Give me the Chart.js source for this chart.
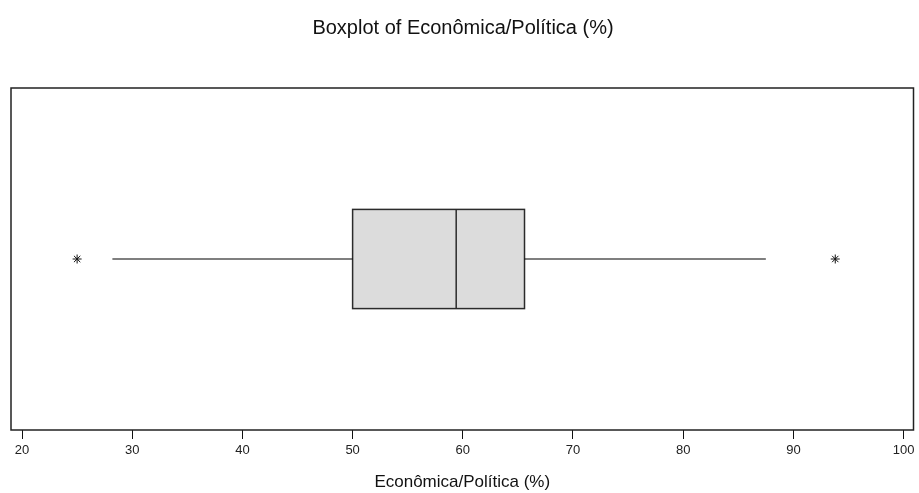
<!DOCTYPE html>
<html>
<head>
<meta charset="utf-8">
<script src="https://cdn.jsdelivr.net/npm/chart.js@4.4.0/dist/chart.umd.min.js"></script>
<style>
  html, body { margin: 0; padding: 0; background: #fff; }
  #wrap { width: 919px; height: 493px; }
</style>
</head>
<body>
<div id="wrap"><canvas id="chart"></canvas></div>
<script>
// five-number summary
const whiskerLow = 28.2;
const q1 = 50.0;
const median = 59.4;
const q3 = 65.6;
const whiskerHigh = 87.5;
const outliers = [25.0, 93.8];
const xTicks = [20, 30, 40, 50, 60, 70, 80, 90, 100];

// vertical placement of the box on a hidden 0..1 axis
const boxCenter = 0.5;
const boxHalf = 0.145;

const boxPlugin = {
  id: 'boxDraw',
  beforeDatasetsDraw(chart) {
    const { ctx, scales: { x, y } } = chart;
    const left = x.getPixelForValue(q1);
    const right = x.getPixelForValue(q3);
    const top = y.getPixelForValue(boxCenter + boxHalf);
    const bottom = y.getPixelForValue(boxCenter - boxHalf);
    const mid = x.getPixelForValue(median);
    ctx.save();
    ctx.fillStyle = '#dcdcdc';
    ctx.fillRect(left, top, right - left, bottom - top);
    ctx.strokeStyle = '#2b2b2b';
    ctx.lineWidth = 1.5;
    ctx.strokeRect(left, top, right - left, bottom - top);
    ctx.beginPath();
    ctx.moveTo(mid, top);
    ctx.lineTo(mid, bottom);
    ctx.stroke();
    ctx.restore();
  },
  afterDraw(chart) {
    const { ctx, chartArea: a } = chart;
    ctx.save();
    ctx.strokeStyle = '#222';
    ctx.lineWidth = 1.5;
    ctx.strokeRect(a.left, a.top, a.right - a.left, a.bottom - a.top);
    ctx.restore();
  }
};

new Chart(document.getElementById('chart'), {
  type: 'scatter',
  data: {
    datasets: [
      {
        data: [{ x: whiskerLow, y: boxCenter }, { x: q1, y: boxCenter }],
        showLine: true, borderColor: '#000', borderWidth: 1.2, pointRadius: 0
      },
      {
        data: [{ x: q3, y: boxCenter }, { x: whiskerHigh, y: boxCenter }],
        showLine: true, borderColor: '#000', borderWidth: 1.2, pointRadius: 0
      },
      {
        data: outliers.map(v => ({ x: v, y: boxCenter })),
        pointStyle: 'star', pointRadius: 4.5, borderColor: '#111', borderWidth: 1,
        backgroundColor: '#111'
      }
    ]
  },
  options: {
    responsive: true,
    maintainAspectRatio: false,
    animation: false,
    layout: { padding: { left: 11, right: 4, top: 0, bottom: 0 } },
    plugins: {
      legend: { display: false },
      tooltip: { enabled: false },
      title: {
        display: true,
        text: 'Boxplot of Econômica/Política (%)',
        color: '#111',
        font: { family: 'Liberation Sans, Arial', size: 20, weight: 'normal' },
        padding: { top: 16, bottom: 48 }
      }
    },
    scales: {
      x: {
        type: 'linear',
        min: 19.0,
        max: 100.9,
        afterBuildTicks: s => { s.ticks = xTicks.map(v => ({ value: v })); },
        grid: { drawOnChartArea: false, tickLength: 9, color: '#111' },
        border: { display: false },
        ticks: {
          color: '#222', padding: 4,
          font: { family: 'Liberation Sans, Arial', size: 13 }
        },
        title: {
          display: true,
          text: 'Econômica/Política (%)',
          color: '#111',
          font: { family: 'Liberation Sans, Arial', size: 17 },
          padding: { top: 10, bottom: 0 }
        }
      },
      y: { display: false, min: 0, max: 1 }
    }
  },
  plugins: [boxPlugin]
});
</script>
</body>
</html>
